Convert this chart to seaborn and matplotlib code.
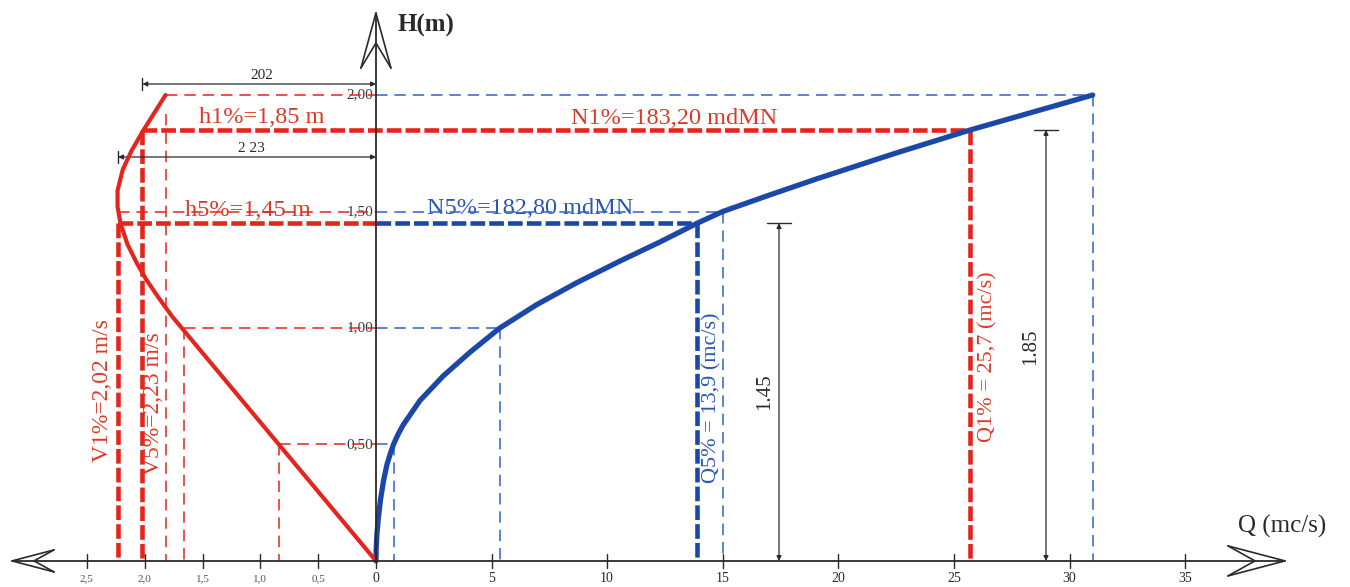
"""
Scala di deflusso Q(H) e velocita' V(H) della sezione di verifica.
"""

import matplotlib

matplotlib.use("Agg")
import matplotlib.pyplot as plt
import pandas as pd
import seaborn as sns

# Scala di deflusso: altezza H (m) e portata Q (mc/s)
H_RATING = [0.00, 0.05, 0.11, 0.18, 0.265, 0.345, 0.415, 0.46, 0.50,
            0.542, 0.584, 0.688, 0.794, 0.896, 1.00, 1.10, 1.194, 1.287,
            1.369, 1.45, 1.50, 1.57, 1.638, 1.748, 1.85, 2.00]
Q_RATING = [0.00, 0.01, 0.04, 0.10, 0.20, 0.33, 0.48, 0.62, 0.76,
            0.95, 1.18, 1.90, 2.91, 4.07, 5.36, 6.95, 8.68, 10.55,
            12.28, 13.90, 15.00, 17.00, 19.00, 22.40, 25.70, 31.00]

# Velocita' media V (m/s) in funzione di H (m)
H_VEL = [0.00, 0.50, 1.00, 1.05, 1.13, 1.21, 1.28, 1.36, 1.45, 1.52,
         1.59, 1.68, 1.76, 1.85, 2.00]
V_VEL = [0.00, 0.84, 1.68, 1.764, 1.88, 1.99, 2.07, 2.15, 2.21, 2.235,
         2.235, 2.19, 2.115, 2.01, 1.82]

# Livelli di lettura (tratteggio sottile)
H_LEVELS = [0.50, 1.00, 1.50, 2.00]
Q_LEVELS = [0.76, 5.36, 15.00, 31.00]
V_LEVELS = [0.84, 1.66, 2.235, 1.82]
H_LEVEL_LABELS = ["0,50", "1,00", "1,50", "2,00"]

# Eventi di progetto: 5% e 1%
H_DESIGN = [1.45, 1.85]
Q_DESIGN = [13.9, 25.7]
V_DESIGN = [2.23, 2.02]

Q_TICKS = [0, 5, 10, 15, 20, 25, 30, 35]
V_TICKS = [0.5, 1.0, 1.5, 2.0, 2.5]
V_TICK_LABELS = ["0,5", "1,0", "1,5", "2,0", "2,5"]

V_SCALE = 5.0  # 1 m/s sul semiasse sinistro = 5 mc/s

RED = "#e4251d"
RED_TXT = "#dc3a26"
BLUE = "#1b47a8"
BLUE_THIN = "#3262c4"
INK = "#2a2a2a"
SERIF = ["Liberation Serif", "DejaVu Serif"]

W, H = 1350, 587
XLIM = (-16.26, 42.13)
YLIM = (-0.112, 2.408)


def px(xp, yp):
    """Converte coordinate in pixel (origine in alto a sinistra) in dati."""
    x = XLIM[0] + xp / W * (XLIM[1] - XLIM[0])
    y = YLIM[1] - yp / H * (YLIM[1] - YLIM[0])
    return x, y


DX = (XLIM[1] - XLIM[0]) / W  # unita' dati per pixel
DY = (YLIM[1] - YLIM[0]) / H

THIN = dict(linewidth=1.1, linestyle=(0, (7.5, 4.5)))
THICK = dict(linewidth=3.3, linestyle=(0, (3.2, 0.9)))


def open_arrow(ax, tip, direction, length, half, notch):
    """Punta di freccia aperta stile disegno tecnico."""
    tx, ty = tip
    dx, dy = direction
    nx, ny = -dy, dx  # perpendicolare
    bx = tx - dx * length * DX
    by = ty - dy * length * DY
    c1 = (bx + nx * half * DX, by + ny * half * DY)
    c2 = (bx - nx * half * DX, by - ny * half * DY)
    kn = (tx - dx * notch * DX, ty - dy * notch * DY)
    kw = dict(color=INK, linewidth=1.2, solid_capstyle="round")
    ax.plot([c1[0], tx, c2[0]], [c1[1], ty, c2[1]], **kw)
    ax.plot([c1[0], kn[0], c2[0]], [c1[1], kn[1], c2[1]], **kw)


def dimension(ax, p1, p2, text, tpos, rot=0):
    ax.annotate(
        "", xy=p1, xytext=p2,
        arrowprops=dict(arrowstyle="<|-|>", color=INK, lw=0.9,
                        mutation_scale=7, shrinkA=0, shrinkB=0),
        zorder=7,
    )
    ax.text(*tpos, text, rotation=rot, ha="center", va="center",
            fontsize=11 if rot == 0 else 15, color=INK, zorder=7)


sns.set_theme(style="white")
plt.rcParams["font.family"] = SERIF

fig = plt.figure(figsize=(W / 100, H / 100), dpi=100)
ax = fig.add_axes([0, 0, 1, 1])

# Curve principali
rating = pd.DataFrame({"Q": Q_RATING, "H": H_RATING})
vel = pd.DataFrame({"x": [-V_SCALE * v for v in V_VEL], "H": H_VEL})
sns.lineplot(data=rating, x="Q", y="H", color=BLUE, linewidth=3.8,
             estimator=None, sort=False, ax=ax, zorder=8,
             solid_capstyle="round", solid_joinstyle="round")
sns.lineplot(data=vel, x="x", y="H", color=RED, linewidth=3.0,
             estimator=None, sort=False, ax=ax, zorder=8,
             solid_capstyle="round", solid_joinstyle="round")

# Livelli di lettura sottili
for h, q, v in zip(H_LEVELS, Q_LEVELS, V_LEVELS):
    ax.plot([-V_SCALE * v, 0], [h, h], color=RED, zorder=4, **THIN)
    ax.plot([0, q], [h, h], color=BLUE_THIN, zorder=4, **THIN)
    ax.plot([q, q], [h, 0], color=BLUE_THIN, zorder=4, **THIN)
    if h < 1.4:
        ax.plot([-V_SCALE * v, -V_SCALE * v], [h, 0], color=RED,
                zorder=4, **THIN)
# verticale della velocita' a H = 2,00
v_top = V_LEVELS[-1]
ax.plot([-V_SCALE * v_top] * 2, [1.92, 0], color=RED, zorder=4, **THIN)

# Eventi di progetto (tratteggio spesso)
h5, h1 = H_DESIGN
q5, q1 = Q_DESIGN
v5, v1 = V_DESIGN
ax.plot([-V_SCALE * v5, 0], [h5, h5], color=RED, zorder=5, **THICK)
ax.plot([0, q5], [h5, h5], color=BLUE, zorder=5, **THICK)
ax.plot([q5, q5], [h5, 0], color=BLUE, zorder=5, **THICK)
ax.plot([-V_SCALE * v1, q1], [h1, h1], color=RED, zorder=5, **THICK)
ax.plot([q1, q1], [h1, 0], color=RED, zorder=5, **THICK)
ax.plot([-V_SCALE * v5] * 2, [h5, 0], color=RED, zorder=5, **THICK)
ax.plot([-V_SCALE * v1] * 2, [h1, 0], color=RED, zorder=5, **THICK)

# Assi
x_left, _ = px(12, 0)
x_right, _ = px(1285, 0)
_, y_top = px(0, 13)
ax.plot([x_left, x_right], [0, 0], color=INK, linewidth=1.3, zorder=9)
ax.plot([0, 0], [0, y_top], color=INK, linewidth=1.3, zorder=9)
open_arrow(ax, (x_right, 0), (1, 0), 57, 15, 30)
open_arrow(ax, (x_left, 0), (-1, 0), 42, 11, 22)
open_arrow(ax, (0, y_top), (0, 1), 55, 15, 30)

# Tacche e etichette asse Q
for q in Q_TICKS:
    ax.plot([q, q], [-7 * DY, 7 * DY], color=INK, linewidth=1.0, zorder=9)
    ax.text(q, -18 * DY, str(q), ha="center", va="center", fontsize=10,
            color=INK)
for v, lab in zip(V_TICKS, V_TICK_LABELS):
    ax.plot([-V_SCALE * v] * 2, [-7 * DY, 7 * DY], color=INK,
            linewidth=1.0, zorder=9)
    ax.text(-V_SCALE * v, -18 * DY, lab, ha="center", va="center",
            fontsize=8, color="#555555")

# Etichette asse H
for h, lab in zip(H_LEVELS, H_LEVEL_LABELS):
    ax.text(-3 * DX, h, lab, ha="right", va="center", fontsize=11,
            color="#3a3a3a", zorder=3)

ax.text(*px(398, 25), "H(m)", ha="left", va="center", fontsize=18,
        fontweight="bold", color=INK)
ax.text(*px(1238, 526), "Q (mc/s)", ha="left", va="center", fontsize=18,
        color=INK)

# Quote
dimension(ax, (-V_SCALE * v1, px(0, 84)[1]), (0, px(0, 84)[1]), "202",
          px(262, 75))
dimension(ax, (-V_SCALE * v5, px(0, 157)[1]), (0, px(0, 157)[1]), "2 23",
          px(251, 148))
q_dim5 = px(779, 0)[0]
q_dim1 = px(1046, 0)[0]
dimension(ax, (q_dim5, 0), (q_dim5, h5), "1.45", px(765, 392), rot=90)
dimension(ax, (q_dim1, 0), (q_dim1, h1), "1.85", px(1031, 347), rot=90)
ax.plot([q_dim5 - 12 * DX, q_dim5 + 12 * DX], [h5, h5], color=INK, lw=1.0)
ax.plot([q_dim1 - 12 * DX, q_dim1 + 12 * DX], [h1, h1], color=INK, lw=1.0)
for hy, vv in ((84, v1), (157, v5)):
    yy = px(0, hy)[1]
    ax.plot([-V_SCALE * vv] * 2, [yy - 6 * DY, yy + 6 * DY], color=INK,
            lw=1.0)

# Testi
ax.text(*px(262, 117), "h1%=1,85 m", ha="center", va="center",
        fontsize=17.5, color=RED_TXT, zorder=6)
ax.text(*px(674, 118), "N1%=183,20 mdMN", ha="center", va="center",
        fontsize=17.5, color=RED_TXT, zorder=6)
ax.text(*px(248, 211), "h5%=1,45 m", ha="center", va="center",
        fontsize=17.5, color=RED_TXT, zorder=3)
ax.text(*px(530, 209), "N5%=182,80 mdMN", ha="center", va="center",
        fontsize=17.5, color="#2a56b6", zorder=3)
ax.text(*px(712, 398), "Q5% = 13,9 (mc/s)", rotation=90, ha="center",
        va="center", fontsize=16, color="#2a56b6", zorder=6)
ax.text(*px(988, 357), "Q1% = 25,7 (mc/s)", rotation=90, ha="center",
        va="center", fontsize=16, color=RED_TXT, zorder=6)
ax.text(*px(102, 391), "V1%=2,02 m/s", rotation=90, ha="center",
        va="center", fontsize=17, color=RED_TXT, zorder=6)
ax.text(*px(153, 404), "V5%=2,23 m/s", rotation=90, ha="center",
        va="center", fontsize=17, color=RED_TXT, zorder=6)

ax.set_xlim(*XLIM)
ax.set_ylim(*YLIM)
ax.axis("off")

fig.savefig("out.png", dpi=100)
